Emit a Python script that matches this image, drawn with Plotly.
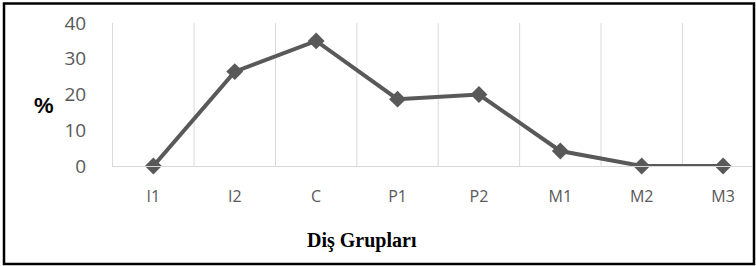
import plotly.graph_objects as go

categories = ["I1", "I2", "C", "P1", "P2", "M1", "M2", "M3"]
values = [0, 26.4, 35.0, 18.7, 20.0, 4.2, 0, 0]
y_ticks = [0, 10, 20, 30, 40]

W, H = 756, 266
L, R, T, B = 113, 4, 23, 100
pw, ph = W - L - R, H - T - B


def px(x):
    return (x - L) / pw


def py(y):
    return (H - B - y) / ph


fig = go.Figure()
fig.add_trace(go.Scatter(
    x=list(range(len(categories))), y=values, mode="lines+markers",
    line=dict(color="#595959", width=4),
    marker=dict(symbol="diamond", size=13, color="#595959"),
    hoverinfo="skip", showlegend=False, cliponaxis=False,
))

fig.update_layout(
    width=W, height=H,
    margin=dict(l=L, r=R, t=T, b=B, pad=0),
    paper_bgcolor="white", plot_bgcolor="white",
    font=dict(family="Open Sans, Lato, sans-serif", color="#595959"),
    xaxis=dict(
        range=[-0.496, 7.355],
        tickmode="array",
        tickvals=list(range(len(categories))),
        ticktext=categories,
        showgrid=False, zeroline=False,
        showline=True, linecolor="#d9d9d9", linewidth=1,
        ticks="", tickfont=dict(size=16, color="#595959"),
        ticklabelstandoff=16,
        fixedrange=True,
    ),
    yaxis=dict(
        range=[0, 40], tickvals=y_ticks,
        showgrid=False, zeroline=False,
        showline=True, linecolor="#d9d9d9", linewidth=1,
        ticks="", tickfont=dict(size=19, color="#595959"),
        ticklabelstandoff=22,
        fixedrange=True,
    ),
    showlegend=False,
)

# vertical gridlines at category boundaries
for i in range(len(categories) - 1):
    fig.add_shape(type="line", xref="x", yref="y",
                  x0=i + 0.5, x1=i + 0.5, y0=0, y1=40,
                  line=dict(color="#d9d9d9", width=1), layer="below")

# outer frame
fig.add_shape(type="rect", xref="paper", yref="paper",
              x0=px(4), x1=px(754), y0=py(264), y1=py(3.5),
              line=dict(color="black", width=2.5))

fig.add_annotation(text="<b>%</b>", xref="paper", yref="paper",
                   x=px(44), y=py(105), xanchor="center", yanchor="middle",
                   showarrow=False,
                   font=dict(family="Liberation Sans, Arial", size=22, color="black"))
fig.add_annotation(text="<b>Diş Grupları</b>", xref="paper", yref="paper",
                   x=px(362), y=py(240), xanchor="center", yanchor="middle",
                   showarrow=False,
                   font=dict(family="Liberation Serif, Times New Roman, serif", size=20, color="black"))

fig.write_html("out.html", config={"displayModeBar": False},
               post_script="document.body.style.margin='0';")
